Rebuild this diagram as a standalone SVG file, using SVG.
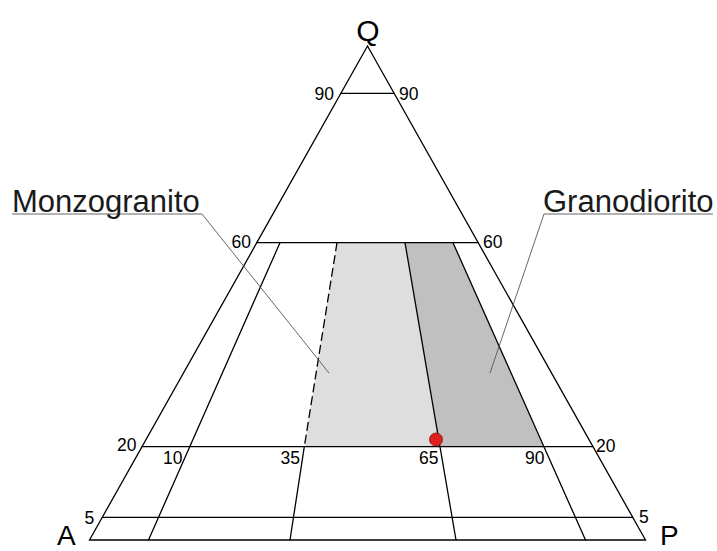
<svg xmlns="http://www.w3.org/2000/svg" width="717" height="551" viewBox="0 0 717 551">
<style>
.ln{stroke:#000;stroke-width:1.3;fill:none;stroke-linecap:round}
.ld{stroke:#555;stroke-width:0.9;fill:none}
.num{font-family:"Liberation Sans",Arial,sans-serif;font-size:17.5px;fill:#000}
.big{font-family:"Liberation Sans",Arial,sans-serif;font-size:30px;fill:#000}
.vx{font-family:"Liberation Sans",Arial,sans-serif;font-size:28px;fill:#000}
.lab{font-family:"Liberation Sans",Arial,sans-serif;font-size:31px;fill:#1a1a1a}
</style>
<rect width="717" height="551" fill="#fff"/>
<g id="fields">
<polygon id="monzogranito-field" points="337,242.7 405,242.7 440,446.7 304.3,446.7" fill="#dedede"/>
<polygon id="granodiorito-field" points="405,242.7 453,242.7 543.3,446.7 440,446.7" fill="#c0c0c0"/>
</g>
<g id="connectors">
<polygon class="ln" points="367.5,46 89.5,540 645.5,540"/>
<line class="ln" x1="340.9" y1="93.3" x2="394.1" y2="93.3"/>
<line class="ln" x1="256.8" y1="242.7" x2="478.2" y2="242.7"/>
<line class="ln" x1="142" y1="446.7" x2="593" y2="446.7"/>
<line class="ln" x1="102.3" y1="517.3" x2="632.7" y2="517.3"/>
<line class="ln" x1="280" y1="242.7" x2="148.5" y2="540"/>
<line class="ln" x1="337" y1="242.7" x2="304.3" y2="446.7" stroke-dasharray="8 5" stroke-linecap="butt"/>
<line class="ln" x1="304.3" y1="446.7" x2="290" y2="540"/>
<line class="ln" x1="405" y1="242.7" x2="456" y2="540"/>
<line class="ln" x1="453" y1="242.7" x2="585.5" y2="540"/>
<polyline class="ld" points="12,214 202,214 329,373"/>
<polyline class="ld" points="713,214 544,214 490,373"/>
</g>
<g id="vertex-labels">
<text class="big" x="368" y="41" text-anchor="middle">Q</text>
<text class="vx" x="57" y="545">A</text>
<text class="vx" x="660" y="545">P</text>
</g>
<g id="scale-labels">
<text class="num" x="334" y="100" text-anchor="end">90</text>
<text class="num" x="399" y="100">90</text>
<text class="num" x="251" y="248" text-anchor="end">60</text>
<text class="num" x="483" y="248">60</text>
<text class="num" x="136.5" y="451" text-anchor="end">20</text>
<text class="num" x="596" y="451.5">20</text>
<text class="num" x="163" y="463.5">10</text>
<text class="num" x="280.5" y="464">35</text>
<text class="num" x="419" y="464">65</text>
<text class="num" x="525" y="464">90</text>
<text class="num" x="84.5" y="523.5">5</text>
<text class="num" x="639" y="523">5</text>
</g>
<g id="monzogranito">
<text class="lab" x="12" y="212">Monzogranito</text>
</g>
<g id="granodiorito">
<text class="lab" x="543" y="212">Granodiorito</text>
</g>
<g id="sample">
<circle cx="436" cy="439.5" r="6.5" fill="#e0201c" stroke="#7a1010" stroke-width="0.8"/>
</g>
</svg>
